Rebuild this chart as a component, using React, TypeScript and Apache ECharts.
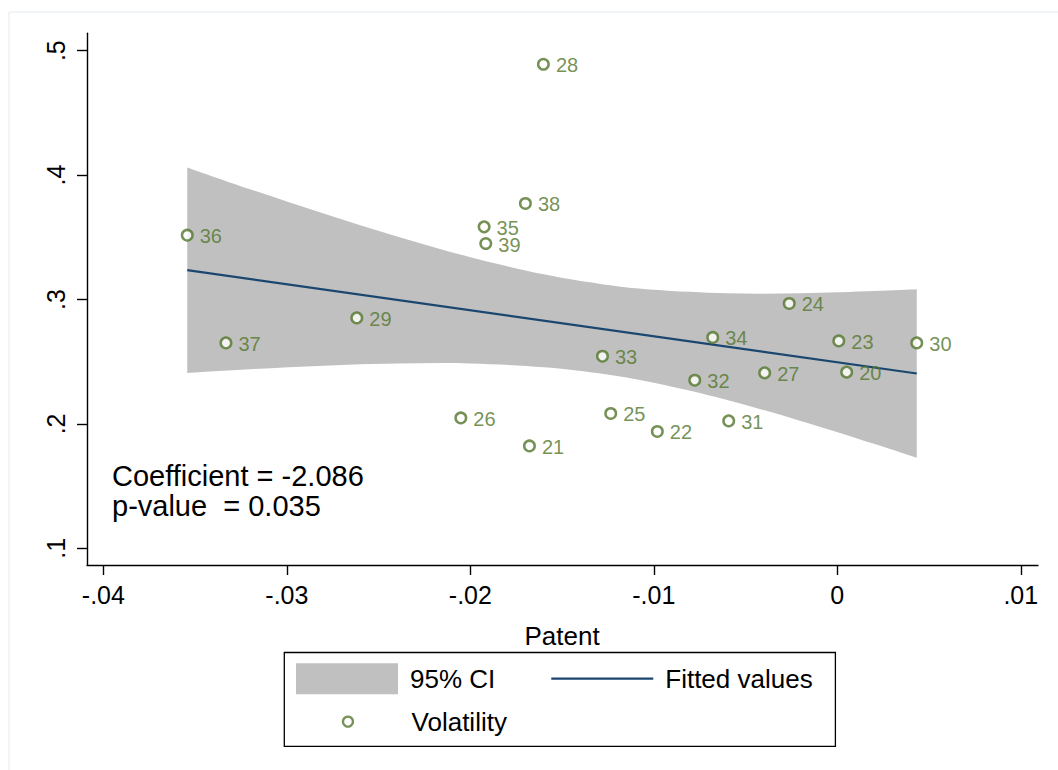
import React, { useEffect, useRef } from "react";
import * as echarts from "echarts";

// ---- data ----
const ids = [20, 21, 22, 23, 24, 25, 26, 27, 28, 29, 30, 31, 32, 33, 34, 35, 36, 37, 38, 39];
const patent = [
  0.00051, -0.01678, -0.00981, 0.00008, -0.00262, -0.01235, -0.02052, -0.00396, -0.01602, -0.02619,
  0.00433, -0.00592, -0.00777, -0.0128, -0.00679, -0.01925, -0.03543, -0.03332, -0.017, -0.01916,
];
const volatility = [
  0.2416, 0.1823, 0.1939, 0.2667, 0.2968, 0.2084, 0.2048, 0.241, 0.4891, 0.2852,
  0.2651, 0.2024, 0.2351, 0.2544, 0.2695, 0.3584, 0.3517, 0.2651, 0.3772, 0.345,
];

const fitX = [-0.03543, 0.00433];
const fitY = [0.3236, 0.2405];

const ciX = [-0.03543, -0.032, -0.028, -0.024, -0.02, -0.016, -0.013, -0.01, -0.006, -0.002, 0.002, 0.00433];
const ciLow = [0.241, 0.244, 0.2468, 0.2485, 0.2486, 0.2456, 0.2407, 0.233, 0.2192, 0.2024, 0.184, 0.1727];
const ciHigh = [0.4062, 0.3886, 0.3692, 0.3507, 0.334, 0.3202, 0.3127, 0.3078, 0.305, 0.305, 0.3068, 0.3083];

const xTickMin = -0.04;
const xTickMax = 0.01;
const xTickStep = 0.01;
const yTickMin = 0.1;
const yTickMax = 0.5;
const yTickStep = 0.1;

const annotation = ["Coefficient = -2.086", "p-value  = 0.035"];
const xTitle = "Patent";
const legendNames = ["95% CI", "Fitted values", "Volatility"];

// ---- styles ----
const FONT = "'Liberation Sans', Arial, Helvetica, sans-serif";
const GREEN = "#52762a";
const NAVY = "#1a476f";
const GRAY = "#c0c0c0";

// smooth curve (Catmull-Rom -> cubic Bezier) through pixel points
function curveSegments(pts: number[][]): string {
  let d = "";
  const n = pts.length;
  for (let i = 0; i < n - 1; i++) {
    const p0 = pts[Math.max(i - 1, 0)];
    const p1 = pts[i];
    const p2 = pts[i + 1];
    const p3 = pts[Math.min(i + 2, n - 1)];
    const c1x = p1[0] + (p2[0] - p0[0]) / 6;
    const c1y = p1[1] + (p2[1] - p0[1]) / 6;
    const c2x = p2[0] - (p3[0] - p1[0]) / 6;
    const c2y = p2[1] - (p3[1] - p1[1]) / 6;
    d += ` C${c1x},${c1y} ${c2x},${c2y} ${p2[0]},${p2[1]}`;
  }
  return d;
}

export default function App() {
  const ref = useRef<HTMLDivElement>(null);

  useEffect(() => {
    if (!ref.current) return;
    const chart = echarts.init(ref.current, null, { renderer: "svg" });

    const scatterData = ids.map((id, i) => ({ name: String(id), value: [patent[i], volatility[i]] }));
    const ciData = ciX.map((x, i) => [x, ciLow[i], ciHigh[i]]);
    const fitData = fitX.map((x, i) => [x, fitY[i]]);

    const option: any = {
      animation: false,
      backgroundColor: "#ffffff",
      grid: [
        { left: 103.4, right: 37.2, top: 50.7, bottom: 221.7 },
        { left: 87, right: 20, top: 33.3, bottom: 205 },
      ],
      xAxis: [
        {
          type: "value",
          gridIndex: 0,
          min: xTickMin,
          max: xTickMax,
          interval: xTickStep,
          offset: 16.7,
          axisLine: { show: false, onZero: false },
          axisTick: { show: true, length: 10, lineStyle: { color: "#000", width: 1.4 } },
          splitLine: { show: false },
          axisLabel: {
            margin: 17,
            color: "#000",
            fontSize: 25,
            fontFamily: FONT,
            formatter: (v: number) =>
              Math.abs(v) < 1e-9 ? "0" : v.toFixed(2).replace(/^(-?)0\./, "$1."),
          },
          name: xTitle,
          nameLocation: "middle",
          nameGap: 58,
          nameTextStyle: { color: "#000", fontSize: 26, fontFamily: FONT },
        },
        {
          type: "value",
          gridIndex: 1,
          min: 0,
          max: 1,
          axisLine: { show: true, onZero: false, lineStyle: { color: "#000", width: 1.4 } },
          axisTick: { show: false },
          axisLabel: { show: false },
          splitLine: { show: false },
        },
      ],
      yAxis: [
        {
          type: "value",
          gridIndex: 0,
          position: "left",
          min: yTickMin,
          max: yTickMax,
          interval: yTickStep,
          offset: 16.4,
          axisLine: { show: false, onZero: false },
          axisTick: { show: true, length: 10, lineStyle: { color: "#000", width: 1.4 } },
          splitLine: { show: false },
          axisLabel: {
            rotate: 90,
            margin: 19,
            color: "#000",
            fontSize: 25,
            fontFamily: FONT,
            formatter: (v: number) => v.toFixed(1).replace(/^0\./, "."),
          },
        },
        {
          type: "value",
          gridIndex: 1,
          position: "left",
          min: 0,
          max: 1,
          axisLine: { show: true, onZero: false, lineStyle: { color: "#000", width: 1.4 } },
          axisTick: { show: false },
          axisLabel: { show: false },
          splitLine: { show: false },
        },
      ],
      legend: [
        {
          left: 296,
          top: 663.2,
          padding: 0,
          orient: "horizontal",
          itemWidth: 102,
          itemHeight: 31,
          itemGap: 56,
          selectedMode: false,
          textStyle: { color: "#000", fontSize: 26, fontFamily: FONT, padding: [0, 0, 0, 7] },
          data: [
            { name: legendNames[0], icon: "rect", itemStyle: { color: GRAY, borderWidth: 0 } },
            {
              name: legendNames[1],
              icon: "path://M0,0H100V2.2H0Z",
              itemStyle: { color: NAVY, borderWidth: 0 },
            },
          ],
        },
        {
          left: 341.8,
          top: 708.6,
          padding: 0,
          itemWidth: 10,
          itemHeight: 10,
          selectedMode: false,
          textStyle: { color: "#000", fontSize: 26, fontFamily: FONT, padding: [0, 0, 0, 53.6] },
          data: [
            {
              name: legendNames[2],
              icon: "circle",
              itemStyle: { color: "#ffffff", borderColor: GREEN, borderWidth: 2.3 },
            },
          ],
        },
      ],
      graphic: [
        {
          type: "rect",
          z: -1,
          silent: true,
          shape: { x: 9, y: 12, width: 1100, height: 800 },
          style: { fill: "none", stroke: "#e4eaee", lineWidth: 1 },
        },
        {
          type: "rect",
          z: -1,
          silent: true,
          shape: { x: 284.3, y: 652.5, width: 551.1, height: 93.9 },
          style: { fill: "#ffffff", stroke: "#000", lineWidth: 1.3 },
        },
        {
          type: "text",
          x: 112,
          y: 476,
          z: 50,
          silent: true,
          style: {
            text: annotation[0],
            fill: "#000",
            fontSize: 29,
            fontFamily: FONT,
            align: "left",
            verticalAlign: "middle",
          },
        },
        {
          type: "text",
          x: 112,
          y: 506,
          z: 50,
          silent: true,
          style: {
            text: annotation[1],
            fill: "#000",
            fontSize: 29,
            fontFamily: FONT,
            align: "left",
            verticalAlign: "middle",
          },
        },
      ],
      series: [
        {
          name: legendNames[0],
          type: "custom",
          xAxisIndex: 0,
          yAxisIndex: 0,
          data: ciData,
          encode: { x: 0, y: [1, 2] },
          silent: true,
          itemStyle: { color: GRAY },
          z: 1,
          renderItem: (params: any, api: any) => {
            if (params.dataIndex !== 0) return null;
            const up = ciData.map((r) => api.coord([r[0], r[2]]));
            const lo = ciData.map((r) => api.coord([r[0], r[1]])).reverse();
            const d =
              `M${up[0][0]},${up[0][1]}` +
              curveSegments(up) +
              ` L${lo[0][0]},${lo[0][1]}` +
              curveSegments(lo) +
              " Z";
            return { type: "path", shape: { pathData: d }, style: { fill: GRAY, stroke: "none" } };
          },
        },
        {
          name: legendNames[1],
          type: "line",
          xAxisIndex: 0,
          yAxisIndex: 0,
          data: fitData,
          symbol: "none",
          silent: true,
          itemStyle: { color: NAVY },
          lineStyle: { color: NAVY, width: 2.2 },
          z: 2,
        },
        {
          name: legendNames[2],
          type: "scatter",
          xAxisIndex: 0,
          yAxisIndex: 0,
          data: scatterData,
          symbol: "circle",
          symbolSize: 10.5,
          itemStyle: { color: "#ffffff", borderColor: GREEN, borderWidth: 2.5 },
          label: {
            show: true,
            position: "right",
            distance: 6,
            formatter: "{b}",
            color: GREEN,
            fontSize: 20,
            lineHeight: 15,
            fontFamily: FONT,
            offset: [0, 1],
          },
          emphasis: { disabled: true },
          z: 3,
        },
      ],
    };

    chart.setOption(option);
    return () => chart.dispose();
  }, []);

  return (
    <div
      ref={ref}
      style={{ position: "absolute", left: 0, top: 0, width: 1058, height: 770, background: "#fff" }}
    />
  );
}
